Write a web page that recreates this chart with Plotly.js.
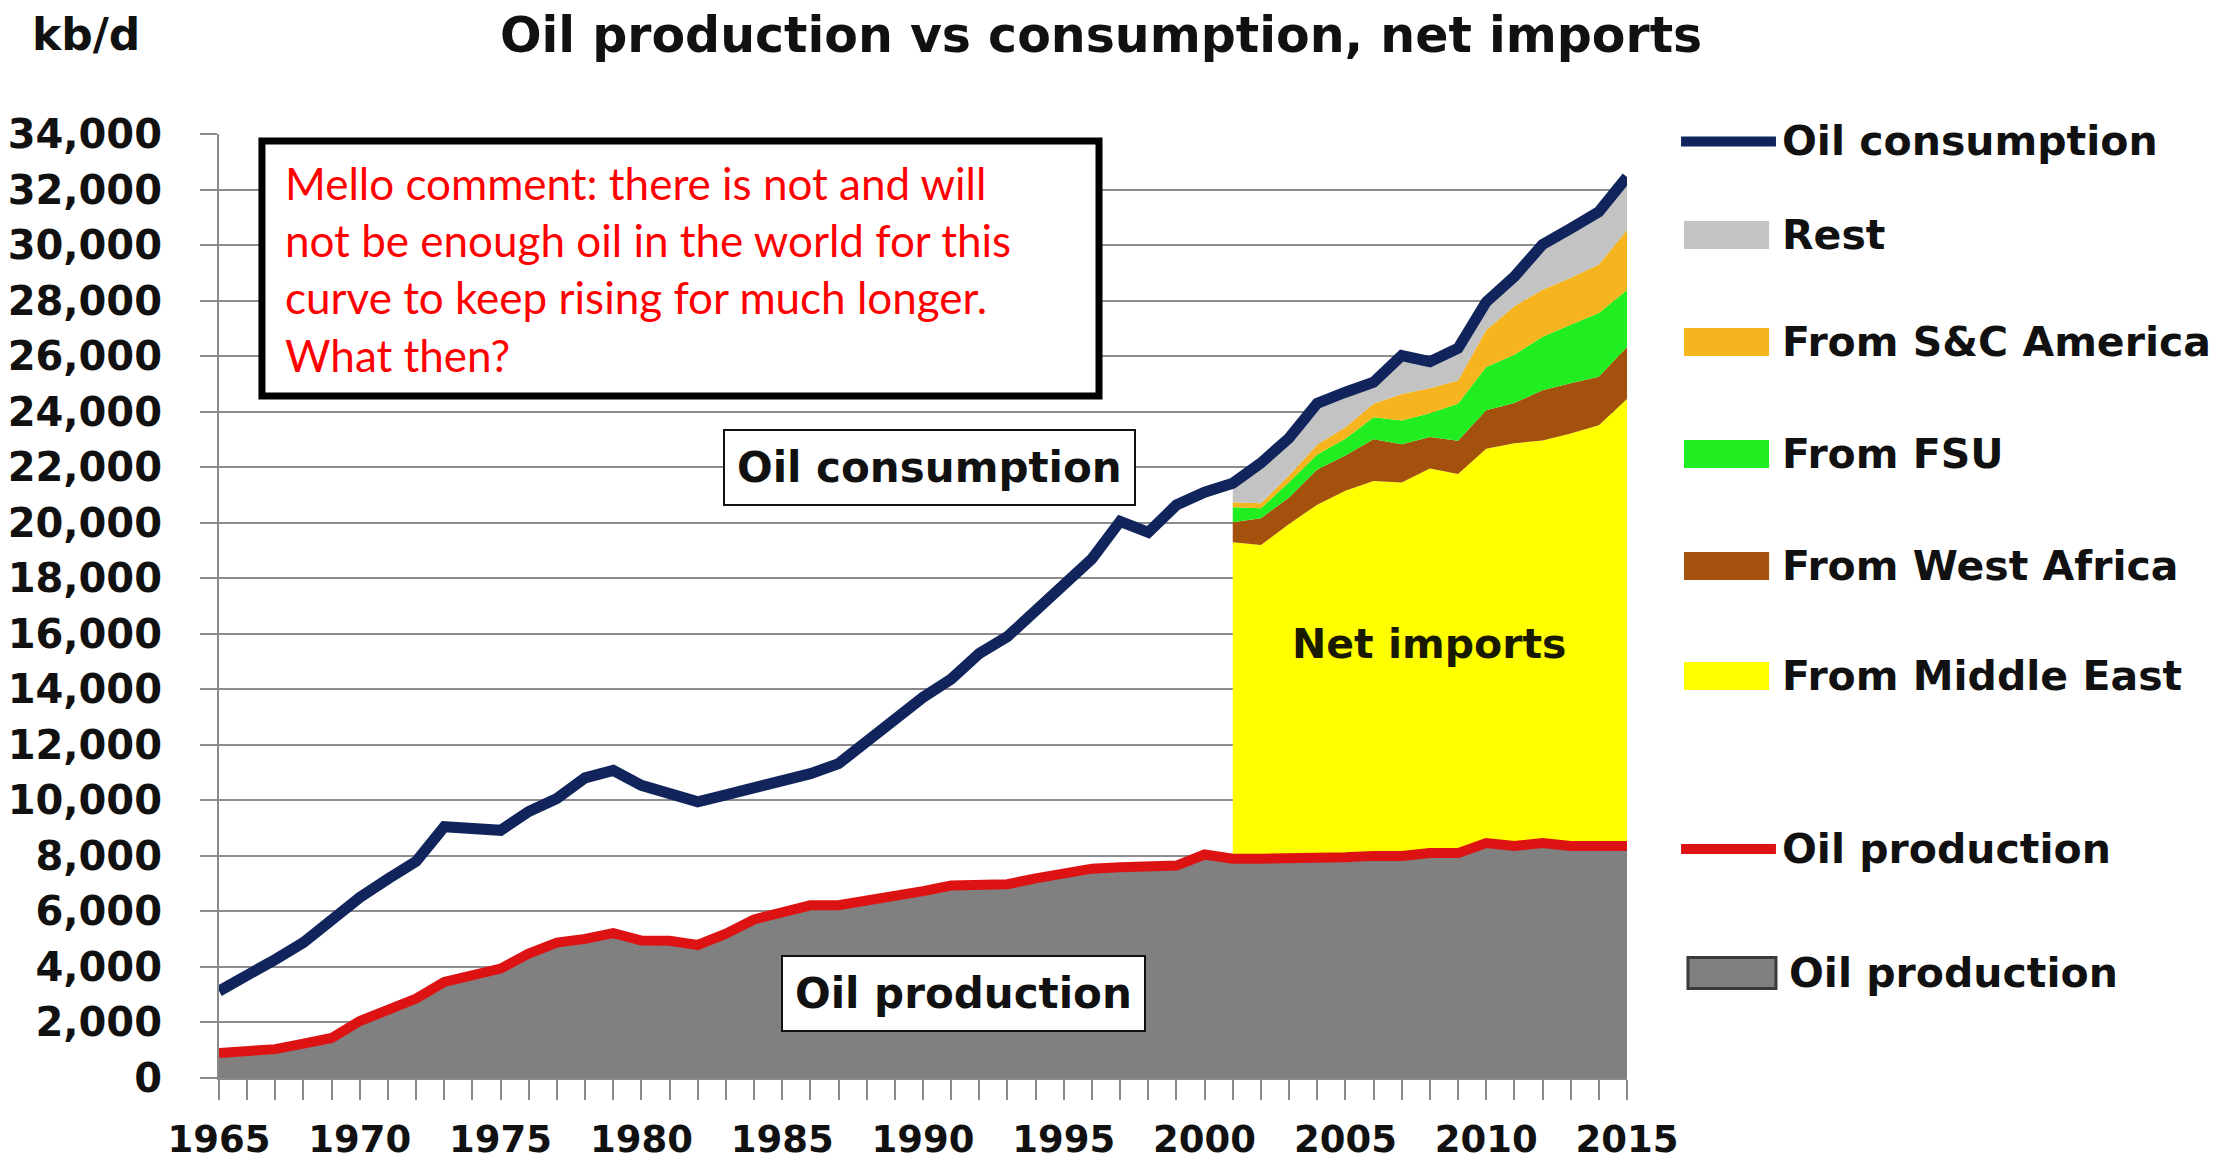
<!DOCTYPE html>
<html>
<head>
<meta charset="utf-8">
<script src="https://cdn.plot.ly/plotly-3.0.1.min.js"></script>
<style>
  html, body { margin: 0; padding: 0; background: #ffffff; }
  #chart { width: 2219px; height: 1168px; }
</style>
</head>
<body>
<div id="chart"></div>
<script>
// ---------------- DATA ----------------
const years = [1965,1966,1967,1968,1969,1970,1971,1972,1973,1974,1975,1976,1977,1978,1979,1980,
  1981,1982,1983,1984,1985,1986,1987,1988,1989,1990,1991,1992,1993,1994,1995,1996,1997,1998,1999,2000,
  2001,2002,2003,2004,2005,2006,2007,2008,2009,2010,2011,2012,2013,2014,2015];

const consumption = [3130,3670,4270,4880,5690,6500,7170,7800,9050,9000,8920,9600,10070,10810,11080,10540,
  10200,9950,10200,10450,10650,10960,11320,12130,13000,13710,14370,15290,15900,16820,17840,18700,20050,19650,20640,21100,
  21420,22150,23050,24300,24700,25060,26020,25800,26280,27950,28860,30020,30600,31200,32450];

const production = [900,1000,1040,1240,1440,2050,2450,2860,3460,3670,3940,4480,4880,5010,5220,4950,
  4940,4790,5200,5710,5960,6220,6220,6370,6520,6730,6930,6930,6980,7190,7340,7540,7590,7590,7650,8050,
  7900,7900,7900,7900,7950,8000,8000,8100,8100,8460,8360,8460,8360,8360,8360];

const importYears = [2001,2002,2003,2004,2005,2006,2007,2008,2009,2010,2011,2012,2013,2014,2015];
const fromMiddleEast = [11400,11300,12050,12750,13200,13500,13450,13850,13650,14200,14500,14500,14850,15150,16100];
const fromWestAfrica = [720,960,960,1270,1270,1510,1380,1140,1200,1390,1450,1810,1810,1750,1870];
const fromFSU        = [540,360,550,540,600,790,850,850,1330,1560,1740,1930,2110,2290,2050];
const fromSCAmerica  = [180,180,240,360,420,480,960,900,840,1330,1750,1690,1690,1750,2160];
const rest           = [680,1450,1350,1480,1260,780,1380,960,1160,1010,1060,1630,1770,1900,1910];

const xTickVals = [1965,1970,1975,1980,1985,1990,1995,2000,2005,2010,2015];
const yTickVals = [0,2000,4000,6000,8000,10000,12000,14000,16000,18000,20000,22000,24000,26000,28000,30000,32000,34000];

const titleText = 'Oil production vs consumption, net imports';
const unitText = 'kb/d';
const commentText = 'Mello comment: there is not and will<br>not be enough oil in the world for this<br>curve to keep rising for much longer.<br>What then?';

// ---------------- STYLE ----------------
const BOLD = 'DejaVu Sans';
const COL = {
  cons: '#11255c', prod: '#dd1313', prodArea: '#808080',
  me: '#ffff00', wa: '#a3510d', fsu: '#20ee20', sca: '#f6b51f', rest: '#c3c3c3'
};

// base of the import stack = production in the import years
const baseIdx = importYears.map(y => years.indexOf(y));
const importBase = baseIdx.map(i => production[i]);
const layers = [
  {name: 'From Middle East', vals: fromMiddleEast, color: COL.me},
  {name: 'From West Africa', vals: fromWestAfrica, color: COL.wa},
  {name: 'From FSU', vals: fromFSU, color: COL.fsu},
  {name: 'From S&C America', vals: fromSCAmerica, color: COL.sca},
  {name: 'Rest', vals: rest, color: COL.rest}
];

const traces = [];
// gray production area
traces.push({x: years, y: production, type: 'scatter', mode: 'lines', fill: 'tozeroy',
  fillcolor: COL.prodArea, line: {width: 0, color: COL.prodArea}, name: 'Oil production area', showlegend: false, hoverinfo: 'skip'});
// invisible base for stacked imports
traces.push({x: importYears, y: importBase, type: 'scatter', mode: 'lines',
  line: {width: 0, color: 'rgba(0,0,0,0)'}, showlegend: false, hoverinfo: 'skip'});
let cum = importBase.slice();
layers.forEach(l => {
  cum = cum.map((v, i) => v + l.vals[i]);
  traces.push({x: importYears, y: cum.slice(), type: 'scatter', mode: 'lines', fill: 'tonexty',
    fillcolor: l.color, line: {width: 0, color: l.color}, name: l.name, showlegend: false});
});
// lines
traces.push({x: years, y: production, type: 'scatter', mode: 'lines', name: 'Oil production',
  line: {color: COL.prod, width: 10}, showlegend: false});
traces.push({x: years, y: consumption, type: 'scatter', mode: 'lines', name: 'Oil consumption',
  line: {color: COL.cons, width: 11}, showlegend: false});

// ---------------- LAYOUT (custom legend) ----------------
const legendItems = [
  {label: 'Oil consumption', kind: 'line', color: COL.cons, y: 0.9921},
  {label: 'Rest', kind: 'box', color: COL.rest, y: 0.893},
  {label: 'From S&C America', kind: 'box', color: COL.sca, y: 0.7797},
  {label: 'From FSU', kind: 'box', color: COL.fsu, y: 0.661},
  {label: 'From West Africa', kind: 'box', color: COL.wa, y: 0.5424},
  {label: 'From Middle East', kind: 'box', color: COL.me, y: 0.4258},
  {label: 'Oil production', kind: 'line', color: COL.prod, y: 0.2426},
  {label: 'Oil production', kind: 'outlinebox', color: COL.prodArea, y: 0.1112}
];

const shapes = [];
const annotations = [];
legendItems.forEach(it => {
  if (it.kind === 'line') {
    shapes.push({type: 'line', xref: 'paper', yref: 'paper', x0: 1.0384, x1: 1.1058, y0: it.y, y1: it.y,
      line: {color: it.color, width: 10}});
    annotations.push({xref: 'paper', yref: 'paper', x: 1.1087, y: it.y, xanchor: 'left', yanchor: 'middle',
      text: it.label, showarrow: false, font: {family: BOLD, size: 41, color: '#111', weight: 700}});
  } else if (it.kind === 'box') {
    shapes.push({type: 'rect', xref: 'paper', yref: 'paper', x0: 1.0405, x1: 1.1009, y0: it.y - 0.0148, y1: it.y + 0.0148,
      fillcolor: it.color, line: {width: 0}});
    annotations.push({xref: 'paper', yref: 'paper', x: 1.1087, y: it.y, xanchor: 'left', yanchor: 'middle',
      text: it.label, showarrow: false, font: {family: BOLD, size: 41, color: '#111', weight: 700}});
  } else {
    shapes.push({type: 'rect', xref: 'paper', yref: 'paper', x0: 1.0433, x1: 1.1058, y0: it.y - 0.0165, y1: it.y + 0.0165,
      fillcolor: it.color, line: {width: 3, color: '#3a3a3a'}});
    annotations.push({xref: 'paper', yref: 'paper', x: 1.1136, y: it.y, xanchor: 'left', yanchor: 'middle',
      text: it.label, showarrow: false, font: {family: BOLD, size: 41, color: '#111', weight: 700}});
  }
});

// comment box
shapes.push({type: 'rect', xref: 'paper', yref: 'paper', x0: 0.0305, x1: 0.625, y0: 0.7225, y1: 0.9926,
  fillcolor: '#ffffff', line: {color: '#000000', width: 7}, layer: 'above'});
annotations.push({xref: 'paper', yref: 'paper', x: 0.0455, y: 0.8565, xanchor: 'left', yanchor: 'middle', align: 'left',
  text: commentText, showarrow: false, font: {family: 'Lato', size: 44, color: '#ff0000'}});

// in-chart labels
annotations.push({xref: 'paper', yref: 'paper', x: 0.5043, y: 0.6472, xanchor: 'center', yanchor: 'middle',
  text: 'Oil consumption', showarrow: false, bgcolor: '#ffffff', bordercolor: '#111', borderwidth: 2, borderpad: 12,
  font: {family: BOLD, size: 42, color: '#111', weight: 700}});
annotations.push({xref: 'paper', yref: 'paper', x: 0.529, y: 0.0895, xanchor: 'center', yanchor: 'middle',
  text: 'Oil production', showarrow: false, bgcolor: '#ffffff', bordercolor: '#111', borderwidth: 2, borderpad: 12,
  font: {family: BOLD, size: 42, color: '#111', weight: 700}});
annotations.push({xref: 'paper', yref: 'paper', x: 0.8594, y: 0.4597, xanchor: 'center', yanchor: 'middle',
  text: 'Net imports', showarrow: false, font: {family: BOLD, size: 41, color: '#1a1a00', weight: 700}});
// unit label
annotations.push({xref: 'paper', yref: 'paper', x: -0.0945, y: 1.1049, xanchor: 'center', yanchor: 'middle',
  text: unitText, showarrow: false, font: {family: BOLD, size: 44, color: '#111', weight: 700}});

const layout = {
  width: 2219, height: 1168,
  paper_bgcolor: '#ffffff', plot_bgcolor: '#ffffff',
  margin: {l: 219, r: 592, t: 134, b: 90},
  showlegend: false,
  title: {text: titleText, x: 0.4962, xanchor: 'center', y: 0.970, yanchor: 'middle',
    font: {family: BOLD, size: 49, color: '#111', weight: 700}},
  xaxis: {
    range: [1965, 2015], tickmode: 'array', tickvals: xTickVals, ticktext: xTickVals.map(String),
    showgrid: false, zeroline: false, showline: true, linecolor: '#8a8a8a', linewidth: 2,
    ticks: 'outside', ticklen: 20, tickwidth: 2, tickcolor: '#8a8a8a', ticklabelstandoff: 8,
    minor: {dtick: 1, tick0: 1965, ticks: 'outside', ticklen: 20, tickwidth: 2, tickcolor: '#8a8a8a', showgrid: false},
    tickfont: {family: BOLD, size: 37, color: '#111', weight: 700}
  },
  yaxis: {
    range: [0, 34000], tickmode: 'array', tickvals: yTickVals, ticktext: yTickVals.map(v => v.toLocaleString('en-US')),
    showgrid: true, gridcolor: '#8c8c8c', gridwidth: 2, zeroline: false,
    showline: true, linecolor: '#8a8a8a', linewidth: 2,
    ticks: 'outside', ticklen: 17, tickwidth: 2, tickcolor: '#8c8c8c', ticklabelstandoff: 30,
    tickfont: {family: BOLD, size: 40, color: '#111', weight: 700}
  },
  shapes: shapes,
  annotations: annotations
};

Plotly.newPlot('chart', traces, layout, {displayModeBar: false, staticPlot: true});
</script>
</body>
</html>
